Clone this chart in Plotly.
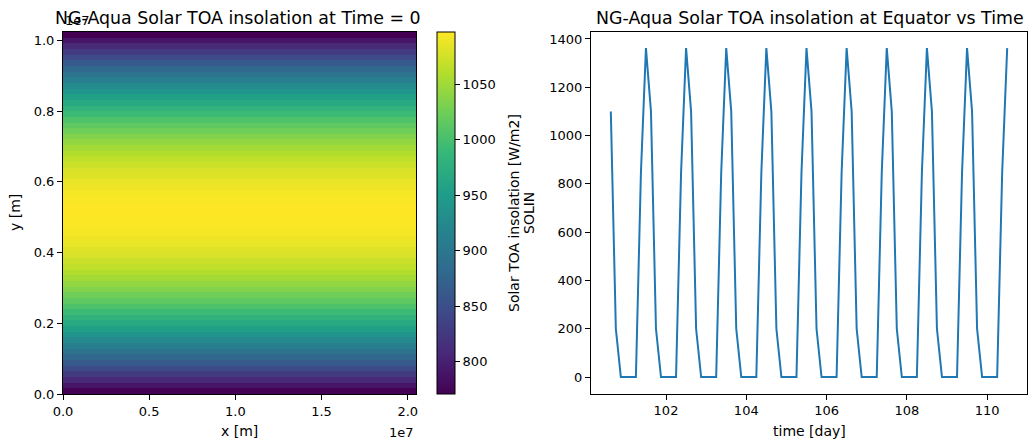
import numpy as np
import plotly.graph_objects as go

# ---------------- data ----------------
# Left panel: insolation vs y (constant along x), 64 rows from south to north (W/m2)
solin_rows = [
    771, 790, 809, 828, 846, 863, 880, 896, 911, 926, 941, 955, 968, 981, 993, 1004,
    1015, 1025, 1035, 1043, 1052, 1059, 1066, 1072, 1078, 1082, 1087, 1090, 1093, 1095, 1096, 1097,
    1097, 1096, 1095, 1093, 1090, 1087, 1082, 1078, 1072, 1066, 1059, 1052, 1043, 1035, 1025, 1015,
    1004, 993, 981, 968, 955, 941, 926, 911, 896, 880, 863, 846, 828, 809, 790, 771,
]
x_extent_m = [0.0, 2.048e7]
y_extent_m = [0.0, 1.024e7]

# Right panel: equator insolation vs time (3-hourly samples)
time_day = [100.625 + 0.125 * i for i in range(80)]
solin_eq = [1100, 200, 0, 0, 0, 0, 845, 1362] * 10

x_ticks = [0.0, 0.5e7, 1.0e7, 1.5e7, 2.0e7]
x_ticklabels = ["0.0", "0.5", "1.0", "1.5", "2.0"]
y_ticks = [0.0, 0.2e7, 0.4e7, 0.6e7, 0.8e7, 1.0e7]
y_ticklabels = ["0.0", "0.2", "0.4", "0.6", "0.8", "1.0"]
cb_ticks = [800, 850, 900, 950, 1000, 1050]
t_ticks = [102, 104, 106, 108, 110]
s_ticks = [0, 200, 400, 600, 800, 1000, 1200, 1400]

# ---------------- layout helpers ----------------
W, H = 1030, 439
def px(x):
    return x / W
def py(y):
    return 1 - y / H

FONT = "DejaVu Sans"
TICKF = dict(family=FONT, size=13, color="black")

nrows = len(solin_rows)
y_edges = np.linspace(y_extent_m[0], y_extent_m[1], nrows + 1)
z = [[v] for v in solin_rows]

fig = go.Figure()
fig.add_trace(go.Heatmap(
    x=x_extent_m, y=y_edges, z=z,
    colorscale="Viridis", zsmooth=False,
    zmin=min(solin_rows), zmax=max(solin_rows),
    xaxis="x", yaxis="y",
    colorbar=dict(
        thicknessmode="pixels", thickness=18,
        lenmode="fraction", len=(394 - 32) / H,
        x=px(437), xanchor="left", xpad=0,
        y=py(394), yanchor="bottom", ypad=0,
        outlinewidth=1, outlinecolor="black",
        tickvals=cb_ticks, ticks="outside", ticklen=5, tickcolor="black",
        tickfont=TICKF,
    ),
))

fig.add_trace(go.Scatter(
    x=time_day, y=solin_eq, mode="lines",
    line=dict(color="#1f77b4", width=2),
    xaxis="x2", yaxis="y2", showlegend=False,
))

tmin, tmax = min(time_day), max(time_day)
tpad = 0.05 * (tmax - tmin)
smin, smax = min(solin_eq), max(solin_eq)
spad = 0.05 * (smax - smin)

axis_common = dict(showgrid=False, zeroline=False, showline=True, mirror=True,
                   linecolor="black", linewidth=1, ticks="outside", ticklen=5,
                   tickcolor="black", tickfont=TICKF, automargin=False)

fig.update_layout(
    width=W, height=H, margin=dict(l=0, r=0, t=0, b=0, autoexpand=False),
    paper_bgcolor="white", plot_bgcolor="white", showlegend=False,
    font=dict(family=FONT, color="black"),
    xaxis=dict(domain=[px(63), px(416)], range=x_extent_m, anchor="y",
               tickvals=x_ticks, ticktext=x_ticklabels, **axis_common),
    yaxis=dict(domain=[py(394), py(32)], range=y_extent_m, anchor="x",
               tickvals=y_ticks, ticktext=y_ticklabels, **axis_common),
    xaxis2=dict(domain=[px(591), px(1027)], range=[tmin - tpad, tmax + tpad], anchor="y2",
                tickvals=t_ticks, **axis_common),
    yaxis2=dict(domain=[py(393.5), py(31.7)], range=[smin - spad, smax + spad], anchor="x2",
                tickvals=s_ticks, **axis_common),
)

def ann(text, x, y, size=14, xanchor="center", yanchor="middle", angle=0):
    fig.add_annotation(text=text, x=px(x), y=py(y), xref="paper", yref="paper",
                       showarrow=False, xanchor=xanchor, yanchor=yanchor,
                       textangle=angle, font=dict(family=FONT, size=size, color="black"))

ann("NG-Aqua Solar TOA insolation at Time = 0", 238, 17.5, size=17.4)
ann("NG-Aqua Solar TOA insolation at Equator vs Time", 810, 17.5, size=17.4)
ann("1e7", 63, 21, size=13, xanchor="left")
ann("1e7", 416, 432, size=13, xanchor="right")
ann("x [m]", 239.5, 431, size=14)
ann("time [day]", 809.5, 431, size=14)
ann("y [m]", 15, 213, size=14, angle=-90)
ann("Solar TOA insolation [W/m2]", 514, 213, size=14, angle=-90)
ann("SOLIN", 529, 213, size=14, angle=-90)

fig.write_html("out.html")
